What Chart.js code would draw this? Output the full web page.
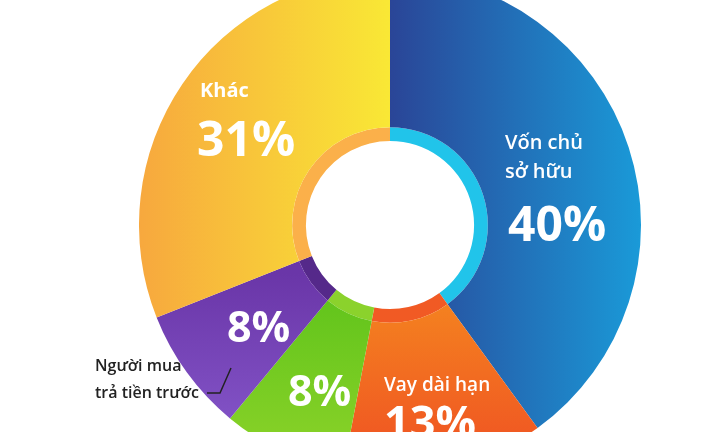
<!DOCTYPE html>
<html><head><meta charset="utf-8">
<script src="https://cdn.jsdelivr.net/npm/chart.js@4/dist/chart.umd.min.js"></script>
<style>
body{margin:0;width:720px;height:432px;overflow:hidden;background:#fff;position:relative;font-family:"Open Sans","Noto Sans",sans-serif}
#wrap{position:absolute;left:139px;top:-26px;width:502px;height:502px}
.t{position:absolute;color:#fff;font-weight:700;white-space:nowrap;line-height:1}
.d{position:absolute;color:#222;font-weight:600;font-size:16px;line-height:1;white-space:nowrap}
</style></head><body>
<div id="wrap"><canvas id="c" width="502" height="502"></canvas></div>
<div class="t" style="left:200px;top:80px;font-size:20px">Khác</div>
<div class="t" style="left:197px;top:114px;font-size:48px">31%</div>
<div class="t" style="left:505px;top:132px;font-size:20px;font-weight:600">Vốn chủ</div>
<div class="t" style="left:505px;top:161px;font-size:20px;font-weight:600">sở hữu</div>
<div class="t" style="left:508px;top:199px;font-size:48px">40%</div>
<div class="t" style="left:227px;top:304px;font-size:43px">8%</div>
<div class="t" style="left:288px;top:368px;font-size:43px">8%</div>
<div class="t" style="left:384px;top:375px;font-size:19px;font-weight:600">Vay dài hạn</div>
<div class="t" style="left:384px;top:398px;font-size:45px">13%</div>
<div class="d" style="left:95px;top:357px">Người mua</div>
<div class="d" style="left:95px;top:384px">trả tiền trước</div>
<svg style="position:absolute;left:0;top:0" width="720" height="432"><polyline points="207,393 220,393 231,368" fill="none" stroke="#222" stroke-width="1.5"/></svg>
<script>
const categories=["Vốn chủ sở hữu","Vay dài hạn","Khác2","Người mua trả tiền trước","Khác"];
const values=[40,13,8,8,31];
const grads=[["#2a4597","#1a9ad8"],["#f58a1f","#ef4e23"],["#5cc21a","#8fd42a"],["#6a36a8","#8a5cd0"],["#f7a83e","#f9e835"]];
const innerColors=["#21c4ea","#f15a24","#8bd22c","#55298a","#fbb04a"];
const ctx=document.getElementById('c').getContext('2d');
function grad(i){const g=ctx.createLinearGradient(0,0,502,0);
 if(i===0){g.addColorStop(0.5,grads[0][0]);g.addColorStop(1,grads[0][1]);}
 else if(i===4){g.addColorStop(0,grads[4][0]);g.addColorStop(0.5,grads[4][1]);}
 else{const h=ctx.createLinearGradient(0,300,0,502);h.addColorStop(0,grads[i][0]);h.addColorStop(1,grads[i][1]);return h;}
 return g;}
new Chart(ctx,{type:'doughnut',data:{labels:categories,datasets:[
 {data:values,backgroundColor:values.map((v,i)=>grad(i)),borderWidth:0,weight:156},
 {data:values,backgroundColor:innerColors,borderWidth:0,weight:14}]},
 options:{responsive:false,animation:false,cutout:'33.5%',layout:{padding:0},
 plugins:{legend:{display:false},tooltip:{enabled:false}}}});
</script></body></html>
